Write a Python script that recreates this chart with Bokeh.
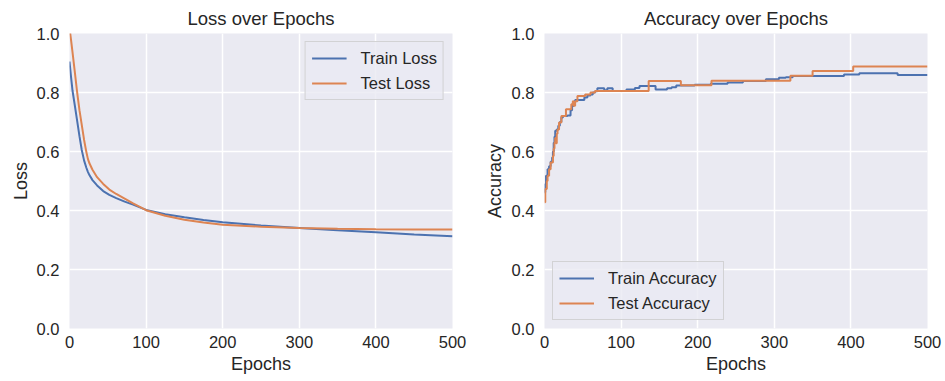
from bokeh.plotting import figure
from bokeh.layouts import row
from bokeh.models import Range1d, FixedTicker, PrintfTickFormatter
from bokeh.embed import file_html
from bokeh.resources import INLINE

# ---- loss history (sampled epochs) ----
loss_epochs = [0, 2, 4, 7, 10, 13, 16, 19, 22, 24, 26, 30, 36, 44, 52, 61, 72, 83,
               100, 125, 150, 175, 200, 250, 300, 350, 400, 450, 500]
train_loss = [0.905, 0.853, 0.805, 0.755, 0.704, 0.652, 0.605, 0.570, 0.545, 0.531,
              0.520, 0.503, 0.485, 0.466, 0.453, 0.442, 0.430, 0.420,
              0.402, 0.387, 0.377, 0.368, 0.360, 0.349, 0.341, 0.333, 0.326, 0.319, 0.313]
test_loss = [1.020, 0.978, 0.935, 0.868, 0.800, 0.740, 0.690, 0.640, 0.598, 0.575,
             0.560, 0.538, 0.513, 0.490, 0.471, 0.456, 0.440, 0.424,
             0.401, 0.382, 0.369, 0.359, 0.352, 0.345, 0.341, 0.338, 0.3365, 0.336, 0.336]

# ---- accuracy history (epochs where the value changes) ----
train_acc_epochs = [0, 1, 2, 4, 6, 8, 10, 11, 12, 13, 14, 16, 18, 20, 22, 24, 30, 34, 36,
                    38, 40, 52, 56, 60, 63, 66, 69, 78, 82, 89, 107, 118, 124, 145, 160,
                    166, 172, 196, 217, 239, 259, 289, 306, 315, 324, 391, 411, 461, 500]
train_acc = [0.462, 0.490, 0.518, 0.540, 0.550, 0.565, 0.580, 0.600, 0.630, 0.650, 0.670,
             0.675, 0.687, 0.700, 0.715, 0.720, 0.722, 0.740, 0.754, 0.766, 0.775, 0.783,
             0.790, 0.793, 0.800, 0.804, 0.814, 0.808, 0.814, 0.805, 0.810, 0.815, 0.822,
             0.810, 0.814, 0.818, 0.824, 0.826, 0.830, 0.834, 0.839, 0.845, 0.850, 0.852,
             0.856, 0.861, 0.865, 0.859, 0.859]
test_acc_epochs = [0, 1, 3, 4, 6, 8, 11, 12, 13, 14, 15, 16, 17, 19, 22, 28, 35, 37, 38,
                   40, 43, 53, 60, 66, 136, 178, 218, 321, 350, 403, 500]
test_acc = [0.428, 0.473, 0.500, 0.518, 0.540, 0.563, 0.585, 0.610, 0.630, 0.646, 0.628,
            0.660, 0.675, 0.698, 0.720, 0.743, 0.760, 0.770, 0.755, 0.770, 0.788, 0.793,
            0.800, 0.805, 0.839, 0.825, 0.840, 0.857, 0.873, 0.888, 0.888]

x_ticks = [0, 100, 200, 300, 400, 500]
y_ticks = [0.0, 0.2, 0.4, 0.6, 0.8, 1.0]

BLUE = "#4c72b0"
ORANGE = "#dd8452"
PANEL = "#eaeaf2"
INK = "#262626"
FONT = "Liberation Sans"


def make_panel(title, ylabel, width, left, right, label_standoff):
    p = figure(width=width, height=381, output_backend="svg", toolbar_location=None,
               x_range=Range1d(0, 500), y_range=Range1d(0, 1),
               min_border_left=left, min_border_right=right,
               min_border_top=32, min_border_bottom=53)
    p.background_fill_color = PANEL
    p.border_fill_color = "white"
    p.outline_line_color = None

    p.title.text = title
    p.title.align = "center"
    p.title.text_font = FONT
    p.title.text_font_size = "18.5px"
    p.title.text_font_style = "normal"
    p.title.text_color = INK

    p.xaxis.ticker = FixedTicker(ticks=x_ticks)
    p.yaxis.ticker = FixedTicker(ticks=y_ticks)
    p.xaxis.formatter = PrintfTickFormatter(format="%d")
    p.yaxis.formatter = PrintfTickFormatter(format="%.1f")
    p.xaxis.axis_label = "Epochs"
    p.yaxis.axis_label = ylabel

    for ax in (p.xaxis, p.yaxis):
        ax.axis_line_color = None
        ax.major_tick_line_color = None
        ax.minor_tick_line_color = None
        ax.major_tick_out = 0
        ax.major_tick_in = 0
        ax.major_label_text_font = FONT
        ax.major_label_text_font_size = "16.5px"
        ax.major_label_text_color = INK
        ax.axis_label_text_font = FONT
        ax.axis_label_text_font_size = "18px"
        ax.axis_label_text_font_style = "normal"
        ax.axis_label_text_color = INK
    p.xaxis.major_label_standoff = 7
    p.yaxis.major_label_standoff = 10
    p.xaxis.axis_label_standoff = 3
    p.yaxis.axis_label_standoff = label_standoff

    p.grid.grid_line_color = "white"
    p.grid.grid_line_width = 1.5
    return p


def style_legend(p, location):
    lg = p.legend[0]
    lg.location = location
    lg.label_text_font = FONT
    lg.label_text_font_size = "16.5px"
    lg.label_text_color = INK
    lg.glyph_width = 35
    lg.glyph_height = 20
    lg.label_height = 20
    lg.label_standoff = 14
    lg.spacing = 5
    lg.padding = 6
    lg.margin = 8
    lg.background_fill_color = PANEL
    lg.background_fill_alpha = 0.8
    lg.border_line_color = "#cccccc"
    lg.border_line_alpha = 0.8


loss_fig = make_panel("Loss over Epochs", "Loss", 472, 69, 20, 3)
loss_fig.line(loss_epochs, train_loss, line_color=BLUE, line_width=2, legend_label="Train Loss")
loss_fig.line(loss_epochs, test_loss, line_color=ORANGE, line_width=2, legend_label="Test Loss")
style_legend(loss_fig, "top_right")

acc_fig = make_panel("Accuracy over Epochs", "Accuracy", 473, 72, 18, 4)
acc_fig.step(train_acc_epochs, train_acc, mode="after", line_color=BLUE, line_width=2,
             legend_label="Train Accuracy")
acc_fig.step(test_acc_epochs, test_acc, mode="after", line_color=ORANGE, line_width=2,
             legend_label="Test Accuracy")
style_legend(acc_fig, "bottom_left")

layout = row(loss_fig, acc_fig)
open("out.html", "w").write(file_html(layout, INLINE))
